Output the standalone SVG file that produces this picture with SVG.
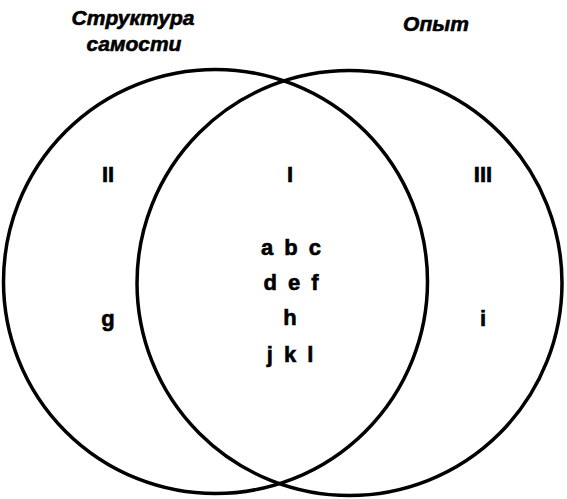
<svg xmlns="http://www.w3.org/2000/svg" width="567" height="499" viewBox="0 0 567 499">
<style>
.c{fill:none;stroke:#000;stroke-width:3.5}
.t{font-family:"Liberation Sans",Arial,sans-serif;font-weight:bold;fill:#000;stroke:#000;stroke-width:0.6;text-anchor:middle}
.h{font-style:italic;font-size:21px}
.l{font-size:22px}
</style>
<rect width="567" height="499" fill="#fff"/>
<g id="self">
<circle class="c" cx="215.5" cy="281.5" r="212"/>
<text class="t h" x="133" y="25">Структура</text>
<text class="t h" x="134" y="51">самости</text>
</g>
<g id="experience">
<circle class="c" cx="349.5" cy="283" r="212.5"/>
<text class="t h" x="436" y="31">Опыт</text>
</g>
<g id="labels">
<text class="t l" x="108" y="182">II</text>
<text class="t l" x="290" y="182">I</text>
<text class="t l" x="483" y="182">III</text>
<text class="t l" x="291" y="255" word-spacing="5">a b c</text>
<text class="t l" x="291" y="290" word-spacing="5">d e f</text>
<text class="t l" x="290" y="325">h</text>
<text class="t l" x="290" y="362" word-spacing="5">j k l</text>
<text class="t l" x="108" y="326">g</text>
<text class="t l" x="483" y="326">i</text>
</g>
</svg>
